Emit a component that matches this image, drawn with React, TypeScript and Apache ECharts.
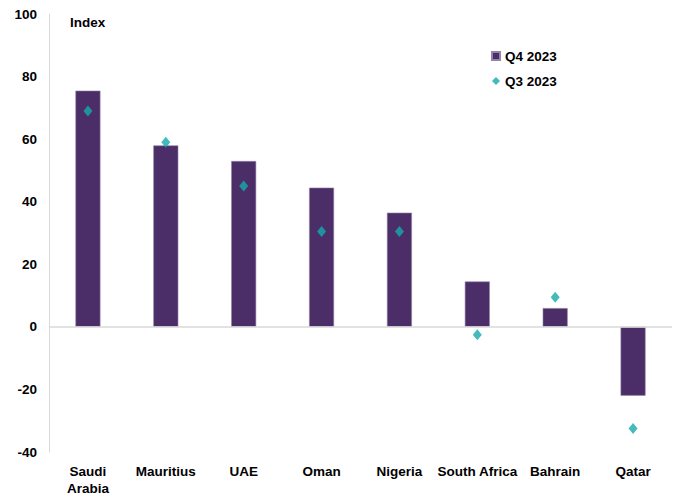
import React, { useEffect, useRef } from "react";
import * as echarts from "echarts";

const categories = ["Saudi\nArabia", "Mauritius", "UAE", "Oman", "Nigeria", "South Africa", "Bahrain", "Qatar"];
const q4Values = [75.5, 58, 53, 44.5, 36.5, 14.5, 6, -22];
const q3Values = [69, 59, 45, 30.5, 30.5, -2.5, 9.5, -32.5];
const seriesNames = ["Q4 2023", "Q3 2023"];
const axisTitle = "Index";

const FONT = "'Liberation Sans', Arial, sans-serif";

export default function App() {
  const ref = useRef<HTMLDivElement>(null);
  useEffect(() => {
    if (!ref.current) return;
    const chart = echarts.init(ref.current, null, { renderer: "svg" });
    chart.setOption({
      animation: false,
      textStyle: { fontFamily: FONT },
      grid: { left: 49, right: 3, top: 14, bottom: 42, containLabel: false },
      legend: {
        orient: "vertical",
        left: 486,
        top: 44,
        itemWidth: 8,
        itemHeight: 8,
        itemGap: 11,
        textStyle: { fontFamily: FONT, fontWeight: "bold", fontSize: 13.5, color: "#000" },
        data: [
          { name: seriesNames[0], icon: "rect" },
          { name: seriesNames[1], icon: "diamond" },
        ],
      },
      graphic: [
        {
          type: "text",
          left: 70,
          top: 15,
          style: { text: axisTitle, font: `bold 13.5px ${FONT}`, fill: "#000" },
        },
      ],
      xAxis: {
        type: "category",
        data: categories,
        axisLine: { show: false, onZero: false },
        axisTick: { show: false },
        axisLabel: {
          margin: 11,
          fontFamily: FONT,
          fontWeight: "bold",
          fontSize: 13.5,
          lineHeight: 17,
          color: "#000",
          interval: 0,
        },
      },
      yAxis: {
        type: "value",
        min: -40,
        max: 100,
        interval: 20,
        axisLine: { show: true, lineStyle: { color: "#d9d9d9", width: 1 } },
        axisTick: { show: false },
        splitLine: { show: false },
        axisLabel: {
          margin: 12,
          fontFamily: FONT,
          fontWeight: "bold",
          fontSize: 13.5,
          color: "#000",
        },
      },
      series: [
        {
          name: seriesNames[0],
          type: "bar",
          data: q4Values,
          barWidth: 25,
          itemStyle: { color: "#4b2e68", borderColor: "#9484a8", borderWidth: 0.6 },
          markLine: {
            silent: true,
            symbol: "none",
            label: { show: false },
            lineStyle: { color: "#d9d9d9", type: "solid", width: 1.5 },
            data: [{ yAxis: 0 }],
          },
          z: 2,
        },
        {
          name: seriesNames[1],
          type: "scatter",
          data: q3Values,
          symbol: "diamond",
          symbolSize: [9, 11],
          itemStyle: { color: "#14aaac" },
          z: 3,
        },
      ],
    });
    return () => chart.dispose();
  }, []);
  return (
    <div
      ref={ref}
      style={{ position: "fixed", left: 0, top: 0, width: 675, height: 497, background: "#fff" }}
    />
  );
}
